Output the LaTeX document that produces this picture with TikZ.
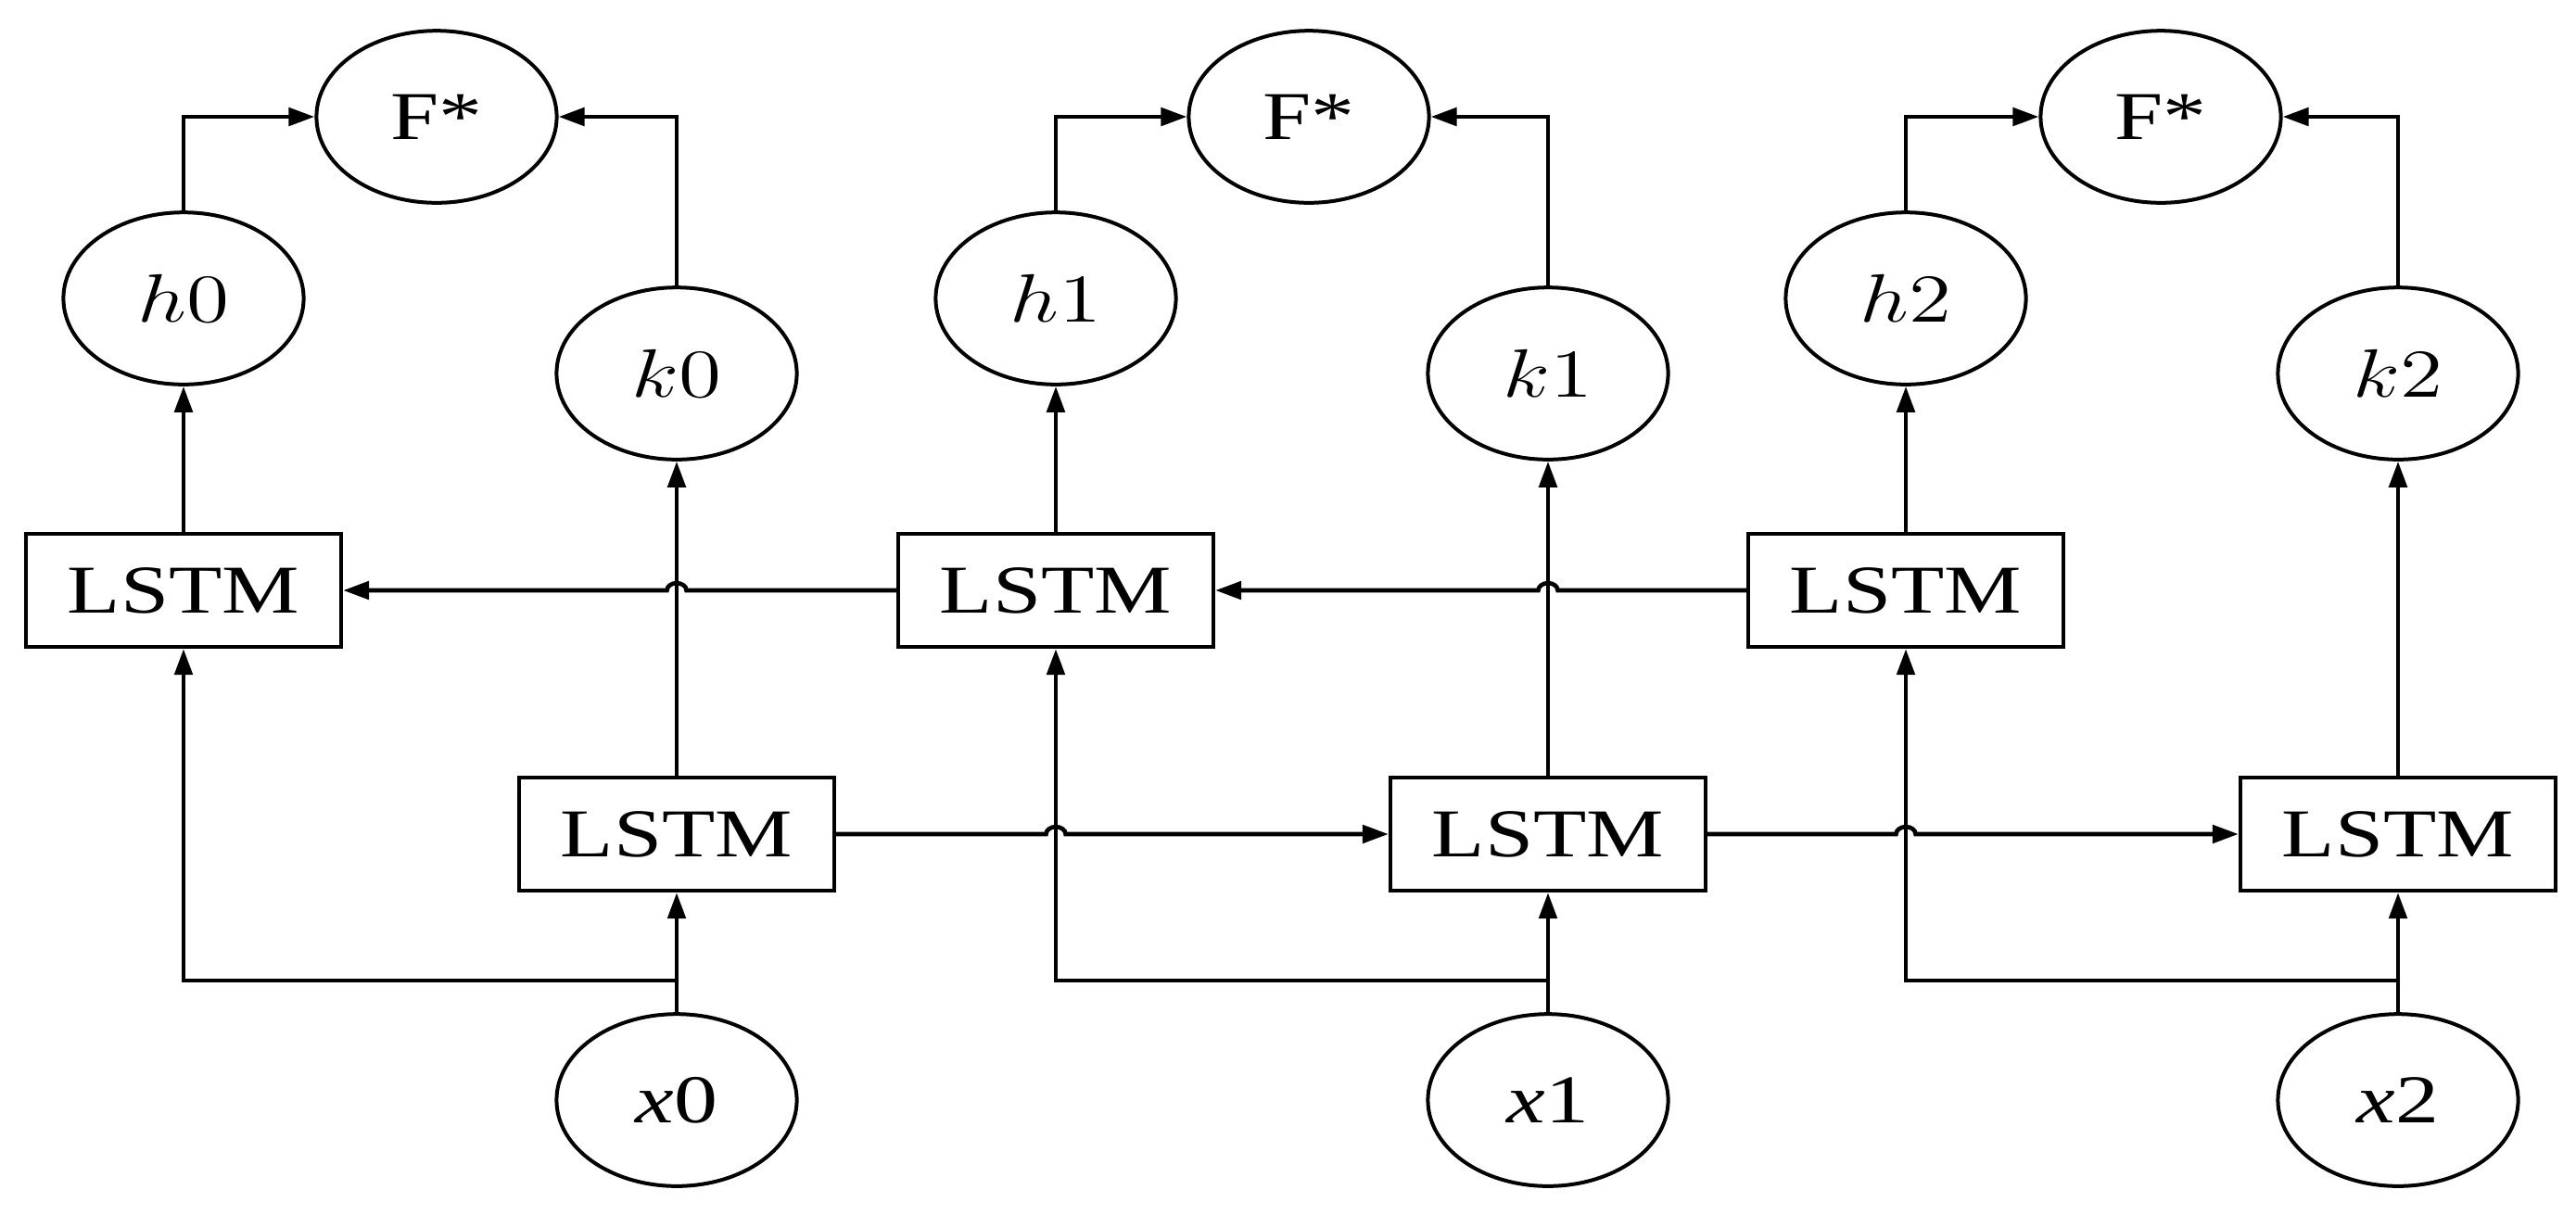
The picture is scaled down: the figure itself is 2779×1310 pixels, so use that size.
\documentclass[tikz,border=0pt]{standalone}
\usepackage{fontspec}
\setmainfont{Liberation Serif}
\usepackage{graphicx}
\usetikzlibrary{shapes.geometric,arrows.meta,calc}
\newcommand{\mystretch}[1]{\scalebox{1.27}[1]{#1}}

\begin{document}
\begin{tikzpicture}[x=0.0571mm, y=-0.0571mm,
            >={Triangle[length=1.6mm,width=1.1mm]},
            nodecirc/.style={ellipse, draw=black, line width=0.65pt, minimum width=14.8mm, minimum height=10.6mm, inner sep=0pt, font=\large},
            lstmbox/.style={rectangle, draw=black, line width=0.75pt, minimum width=19.4mm, minimum height=6.95mm, inner sep=0pt, font=\large},
            link/.style={->, line width=0.75pt},
            hop/.style={x radius=0.6mm, y radius=0.45mm}
        ]
        \useasboundingbox (0,0) rectangle (2779,1310);
        % outputs
        \node[nodecirc] (ff0) at (471,126) {\mystretch{F*}};
        \node[nodecirc] (ff1) at (1412,126) {\mystretch{F*}};
        \node[nodecirc] (ff2) at (2331,126) {\mystretch{F*}};
        \node[nodecirc] (hh0) at (198,322) {\mystretch{$h0$}};
        \node[nodecirc] (hh1) at (1139,322) {\mystretch{$h1$}};
        \node[nodecirc] (hh2) at (2056,322) {\mystretch{$h2$}};
        \node[nodecirc] (kk0) at (730,403) {\mystretch{$k0$}};
        \node[nodecirc] (kk1) at (1670,403) {\mystretch{$k1$}};
        \node[nodecirc] (kk2) at (2587,403) {\mystretch{$k2$}};
        % LSTM cells
        \node[lstmbox] (lu0) at (198,637) {\mystretch{LSTM}};
        \node[lstmbox] (lu1) at (1139,637) {\mystretch{LSTM}};
        \node[lstmbox] (lu2) at (2056,637) {\mystretch{LSTM}};
        \node[lstmbox] (ll0) at (730,900) {\mystretch{LSTM}};
        \node[lstmbox] (ll1) at (1670,900) {\mystretch{LSTM}};
        \node[lstmbox] (ll2) at (2587,900) {\mystretch{LSTM}};
        % inputs
        \node[nodecirc] (xx0) at (730,1187) {\mystretch{\textit{x}0}};
        \node[nodecirc] (xx1) at (1670,1187) {\mystretch{\textit{x}1}};
        \node[nodecirc] (xx2) at (2587,1187) {\mystretch{\textit{x}2}};
        \coordinate (bx0) at (730,1058);
        \coordinate (bx1) at (1670,1058);
        \coordinate (bx2) at (2587,1058);

        \draw[link] (hh0.north) |- (ff0.west);
        \draw[link] (kk0.north) |- (ff0.east);
        \draw[link] (hh1.north) |- (ff1.west);
        \draw[link] (kk1.north) |- (ff1.east);
        \draw[link] (hh2.north) |- (ff2.west);
        \draw[link] (kk2.north) |- (ff2.east);

        \draw[link] (lu0.north) -- (hh0.south);
        \draw[link] (lu1.north) -- (hh1.south);
        \draw[link] (lu2.north) -- (hh2.south);
        \draw[link] (ll0.north) -- (kk0.south);
        \draw[link] (ll1.north) -- (kk1.south);
        \draw[link] (ll2.north) -- (kk2.south);

        \draw[link] (xx0.north) -- (ll0.south);
        \draw[link] (xx1.north) -- (ll1.south);
        \draw[link] (xx2.north) -- (ll2.south);
        \draw[link] (bx0) -| (lu0.south);
        \draw[link] (bx1) -| (lu1.south);
        \draw[link] (bx2) -| (lu2.south);

        % backward chain, hopping over the k lines
        \draw[link] (lu1.west) -- ($(kk0 |- lu1.west)+(10.5,0)$) arc[start angle=0, end angle=180, hop] -- (lu0.east);
        \draw[link] (lu2.west) -- ($(kk1 |- lu2.west)+(10.5,0)$) arc[start angle=0, end angle=180, hop] -- (lu1.east);
        % forward chain
        \draw[link] (ll0.east) -- ($(lu1 |- ll0.east)+(-10.5,0)$) arc[start angle=180, end angle=0, hop] -- (ll1.west);
        \draw[link] (ll1.east) -- ($(lu2 |- ll1.east)+(-10.5,0)$) arc[start angle=180, end angle=0, hop] -- (ll2.west);
\end{tikzpicture}
\end{document}
